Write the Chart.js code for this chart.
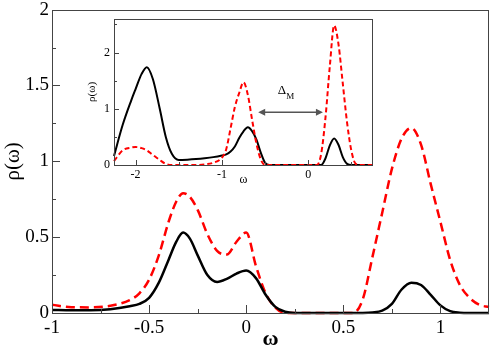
<!DOCTYPE html>
<html lang="en">
<head>
<meta charset="UTF-8">
<title>Spectral function rho(omega)</title>
<script src="https://cdn.jsdelivr.net/npm/chart.js"></script>
<style>
  html, body { margin: 0; padding: 0; background: #fff; }
  #wrap { position: relative; width: 491px; height: 347px; }
  #mainChart { position: absolute; left: 0; top: 0; }
  #insetChart { position: absolute; left: 80px; top: 10px; }
</style>
</head>
<body>
<div id="wrap">
  <canvas id="mainChart" width="491" height="347"></canvas>
  <canvas id="insetChart" width="300" height="175"></canvas>
</div>
<script>
// ---- main panel data ----
var omegaMain = [-1, -0.9, -0.8, -0.7, -0.6, -0.55, -0.5, -0.45, -0.4, -0.36, -0.325, -0.29, -0.25, -0.2,
  -0.15, -0.1, -0.05, 0, 0.05, 0.1, 0.15, 0.2, 0.25, 0.3, 0.4, 0.5, 0.55, 0.6, 0.65, 0.7, 0.75, 0.8,
  0.85, 0.9, 0.95, 1.0, 1.05, 1.1, 1.15, 1.2, 1.25];
var rhoMainBlack = [0.02, 0.018, 0.018, 0.025, 0.045, 0.06, 0.1, 0.2, 0.35, 0.47, 0.53, 0.49, 0.38, 0.25,
  0.205, 0.225, 0.26, 0.28, 0.23, 0.12, 0.04, 0.008, 0, 0, 0, 0, 0, 0, 0.003, 0.015, 0.06, 0.155,
  0.2, 0.185, 0.12, 0.05, 0.012, 0.002, 0, 0, 0];
var rhoMainRed = [0.054, 0.038, 0.037, 0.048, 0.085, 0.13, 0.22, 0.38, 0.6, 0.735, 0.79, 0.765, 0.68, 0.52,
  0.41, 0.385, 0.47, 0.53, 0.31, 0.13, 0.035, 0, 0, 0, 0, 0, 0, 0.09, 0.37, 0.66, 0.95, 1.15,
  1.22, 1.11, 0.85, 0.6, 0.35, 0.185, 0.1, 0.054, 0.04];
var xTicksMain = [-1, -0.5, 0, 0.5, 1];
var xMinorMain = [-0.75, -0.25, 0.25, 0.75];
var yTicksMain = [0, 0.5, 1, 1.5, 2];
var yMinorMain = [0.25, 0.75, 1.25, 1.75];

// ---- inset data ----
var omegaInset = [-2.25, -2.15, -2.05, -2.0, -1.93, -1.87, -1.8, -1.72, -1.65, -1.58, -1.5, -1.4, -1.3,
  -1.2, -1.1, -1.0, -0.95, -0.9, -0.85, -0.8, -0.75, -0.7, -0.65, -0.6, -0.55, -0.5, -0.45, -0.3,
  -0.1, 0.1, 0.15, 0.2, 0.25, 0.3, 0.35, 0.4, 0.45, 0.5, 0.55, 0.6, 0.75];
var rhoInsetBlack = [0.16, 0.71, 1.15, 1.35, 1.62, 1.74, 1.53, 1.0, 0.5, 0.2, 0.09, 0.095, 0.105,
  0.12, 0.14, 0.17, 0.19, 0.24, 0.33, 0.48, 0.6, 0.67, 0.6, 0.45, 0.22, 0.04, 0, 0,
  0, 0, 0, 0.12, 0.35, 0.47, 0.36, 0.14, 0.02, 0, 0, 0, 0];
var rhoInsetRed = [0.07, 0.26, 0.31, 0.32, 0.3, 0.26, 0.18, 0.09, 0.02, 0, 0, 0, 0,
  0.01, 0.04, 0.13, 0.28, 0.65, 1.03, 1.28, 1.47, 1.25, 0.8, 0.38, 0.1, 0, 0, 0,
  0, 0, 0.2, 0.85, 1.76, 2.48, 2.15, 1.45, 0.75, 0.25, 0.02, 0, 0];
var xTicksInset = [-2, -1, 0];
var xMinorInset = [-1.5, -0.5, 0.5];
var yTicksInset = [0, 1, 2];
var yMinorInset = [0.5, 1.5, 2.5];
var gapFrom = -0.58, gapTo = 0.17, gapLevel = 0.94;

var serif = "'Liberation Serif', 'Times New Roman', serif";

function pairs(xs, ys) {
  return xs.map(function (x, i) { return { x: x, y: ys[i] }; });
}

function fixedTicks(list) {
  return function (scale) {
    scale.ticks = list.map(function (v) { return { value: v }; });
  };
}

// box around the plot + inward tick marks on bottom and left
function framePlugin(cfg) {
  return {
    id: 'frame',
    beforeDatasetsDraw: function (chart) {
      if (!cfg.fill) return;
      var a = chart.chartArea, ctx = chart.ctx;
      ctx.save();
      ctx.fillStyle = '#fff';
      ctx.fillRect(a.left, a.top, a.right - a.left, a.bottom - a.top);
      ctx.restore();
    },
    afterDatasetsDraw: function (chart) {
      var a = chart.chartArea, ctx = chart.ctx;
      var xs = chart.scales.x, ys = chart.scales.y;
      ctx.save();
      ctx.strokeStyle = '#444';
      ctx.lineWidth = 1;
      ctx.strokeRect(Math.round(a.left) + 0.5, Math.round(a.top) + 0.5,
        Math.round(a.right - a.left) - 1, Math.round(a.bottom - a.top));
      ctx.beginPath();
      function xt(v, len) {
        var p = Math.round(xs.getPixelForValue(v)) + 0.5;
        ctx.moveTo(p, a.bottom); ctx.lineTo(p, a.bottom - len);
      }
      function yt(v, len) {
        var p = Math.round(ys.getPixelForValue(v)) + 0.5;
        ctx.moveTo(a.left, p); ctx.lineTo(a.left + len, p);
      }
      cfg.xMajor.forEach(function (v) { xt(v, cfg.major); });
      cfg.xMinor.forEach(function (v) { xt(v, cfg.minor); });
      cfg.yMajor.forEach(function (v) { yt(v, cfg.major); });
      cfg.yMinor.forEach(function (v) { yt(v, cfg.minor); });
      ctx.stroke();
      ctx.restore();
      if (cfg.extra) cfg.extra(chart);
    }
  };
}

// double arrow with Delta_M label in the inset
function drawGap(chart) {
  var xs = chart.scales.x, ys = chart.scales.y, ctx = chart.ctx;
  var x1 = xs.getPixelForValue(gapFrom), x2 = xs.getPixelForValue(gapTo);
  var y = ys.getPixelForValue(gapLevel);
  ctx.save();
  ctx.strokeStyle = '#555';
  ctx.fillStyle = '#555';
  ctx.lineWidth = 1.5;
  ctx.beginPath();
  ctx.moveTo(x1 + 4, y); ctx.lineTo(x2 - 4, y);
  ctx.stroke();
  ctx.beginPath();
  ctx.moveTo(x1, y); ctx.lineTo(x1 + 7, y - 3.5); ctx.lineTo(x1 + 7, y + 3.5); ctx.closePath();
  ctx.moveTo(x2, y); ctx.lineTo(x2 - 7, y - 3.5); ctx.lineTo(x2 - 7, y + 3.5); ctx.closePath();
  ctx.fill();
  ctx.fillStyle = '#000';
  ctx.textBaseline = 'alphabetic';
  ctx.textAlign = 'left';
  ctx.font = '13px ' + serif;
  ctx.fillText('Δ', xs.getPixelForValue(-0.354), ys.getPixelForValue(1.27));
  ctx.font = '9px ' + serif;
  ctx.fillText('M', xs.getPixelForValue(-0.255), ys.getPixelForValue(1.18));
  ctx.restore();
}

function lineSet(xs, ys, color, width, dash) {
  return {
    data: pairs(xs, ys),
    borderColor: color,
    borderWidth: width,
    borderDash: dash,
    pointRadius: 0,
    fill: false,
    cubicInterpolationMode: 'monotone',
    clip: 4
  };
}

new Chart(document.getElementById('mainChart'), {
  type: 'line',
  data: {
    datasets: [
      lineSet(omegaMain, rhoMainBlack, '#000', 2.5, []),
      lineSet(omegaMain, rhoMainRed, '#ff0000', 2.5, [9, 5])
    ]
  },
  options: {
    responsive: false,
    animation: false,
    devicePixelRatio: 1,
    layout: { padding: { top: 7, right: 2, left: 0, bottom: 0 } },
    plugins: { legend: { display: false }, tooltip: { enabled: false } },
    scales: {
      x: {
        type: 'linear', min: -1, max: 1.25,
        afterBuildTicks: fixedTicks(xTicksMain),
        afterFit: function (s) { s.height = 34; },
        grid: { display: false, drawTicks: false },
        border: { display: false },
        ticks: { color: '#000', padding: 4, font: { family: serif, size: 19 },
          callback: function (v) { return String(v); } },
        title: { display: true, text: 'ω', color: '#000',
          font: { family: serif, size: 22, weight: 'bold', lineHeight: 1 },
          padding: { top: 0, bottom: -3 } }
      },
      y: {
        type: 'linear', min: 0, max: 2,
        afterBuildTicks: fixedTicks(yTicksMain),
        afterFit: function (s) { s.width = 52; },
        grid: { display: false, drawTicks: false },
        border: { display: false },
        ticks: { color: '#000', padding: 3, font: { family: serif, size: 19, lineHeight: 0.7 },
          callback: function (v) { return String(v); } },
        title: { display: true, text: 'ρ(ω)', color: '#000',
          font: { family: serif, size: 21, lineHeight: 1 },
          padding: { top: 3, bottom: 0 } }
      }
    }
  },
  plugins: [framePlugin({ major: 8, minor: 4, xMajor: xTicksMain, xMinor: xMinorMain,
    yMajor: yTicksMain, yMinor: yMinorMain })]
});

new Chart(document.getElementById('insetChart'), {
  type: 'line',
  data: {
    datasets: [
      lineSet(omegaInset, rhoInsetRed, '#ff0000', 2, [5, 3]),
      lineSet(omegaInset, rhoInsetBlack, '#000', 2, [])
    ]
  },
  options: {
    responsive: false,
    animation: false,
    devicePixelRatio: 1,
    layout: { padding: { top: 8, right: 7, left: 0, bottom: 0 } },
    plugins: { legend: { display: false }, tooltip: { enabled: false } },
    scales: {
      x: {
        type: 'linear', min: -2.25, max: 0.75,
        afterBuildTicks: fixedTicks(xTicksInset),
        afterFit: function (s) { s.height = 20; },
        grid: { display: false, drawTicks: false },
        border: { display: false },
        ticks: { color: '#000', padding: 3, font: { family: serif, size: 12 },
          callback: function (v) { return String(v); } },
        title: { display: true, text: 'ω', color: '#000',
          font: { family: serif, size: 12, lineHeight: 1 },
          padding: { top: 0, bottom: -1 } }
      },
      y: {
        type: 'linear', min: 0, max: 2.6,
        afterBuildTicks: fixedTicks(yTicksInset),
        afterFit: function (s) { s.width = 34; },
        grid: { display: false, drawTicks: false },
        border: { display: false },
        ticks: { color: '#000', padding: 4, font: { family: serif, size: 12, lineHeight: 0.8 },
          callback: function (v) { return String(v); } },
        title: { display: true, text: 'ρ(ω)', color: '#000',
          font: { family: serif, size: 11, lineHeight: 1 },
          padding: { top: 7, bottom: 0 } }
      }
    }
  },
  plugins: [framePlugin({ fill: true, major: 5, minor: 3, xMajor: xTicksInset, xMinor: xMinorInset,
    yMajor: yTicksInset, yMinor: yMinorInset, extra: drawGap })]
});
</script>
</body>
</html>
